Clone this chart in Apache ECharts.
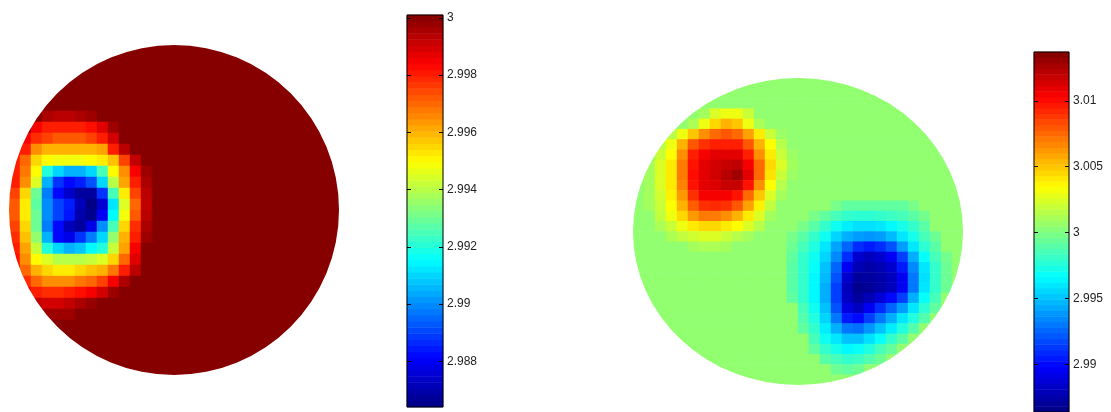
<!DOCTYPE html>
<html><head><meta charset="utf-8">
<script src="https://cdn.jsdelivr.net/npm/echarts@6/dist/echarts.min.js"></script>
<style>html,body{margin:0;padding:0;background:#fff}#c{width:1111px;height:412px}</style>
</head><body><div id="c"></div>
<script>
// ---------------- data ----------------
const gridSize = 30;                      // cells per side of each reconstruction
const leftRange = [2.9864, 3.0001];       // colour scale of left image
const rightRange = [2.9864, 3.0137];      // colour scale of right image
const leftTicks = [2.988, 2.99, 2.992, 2.994, 2.996, 2.998, 3];
const rightTicks = [2.99, 2.995, 3, 3.005, 3.01];
const leftBackground = 3.0;
const rightBackground = 3.0005;
// patches: [startCol, startRow]; null = background value
const leftPatchStart = [0, 6];
const leftPatch = [
  [null, null, null, 2.9995, 2.9993, 2.9993, 2.9995, 2.9997, null, null, null, null, null],
  [null, null, 2.9985, 2.998, 2.998, 2.998, 2.998, 2.9982, 2.9988, 2.9997, null, null, null],
  [null, 2.9985, 2.9978, 2.9975, 2.9972, 2.9972, 2.9972, 2.9975, 2.998, 2.999, null, null, null],
  [2.9985, 2.998, 2.9965, 2.996, 2.996, 2.996, 2.996, 2.996, 2.9962, 2.998, 2.9993, null, null],
  [2.998, 2.997, 2.9955, 2.995, 2.9948, 2.9948, 2.9948, 2.995, 2.9952, 2.9958, 2.9975, 2.9992, null],
  [2.998, 2.9968, 2.995, 2.992, 2.991, 2.9905, 2.9905, 2.991, 2.9925, 2.995, 2.9965, 2.9985, 2.9997],
  [2.998, 2.9965, 2.9945, 2.9905, 2.9888, 2.9882, 2.9885, 2.9892, 2.991, 2.994, 2.9962, 2.998, 2.9995],
  [2.9975, 2.9955, 2.993, 2.9898, 2.9882, 2.9874, 2.9868, 2.9868, 2.9888, 2.9925, 2.9952, 2.9975, 2.9993],
  [2.9972, 2.9952, 2.9928, 2.99, 2.989, 2.9885, 2.9872, 2.9865, 2.9875, 2.9912, 2.9945, 2.997, 2.9992],
  [2.9972, 2.9952, 2.993, 2.99, 2.989, 2.9884, 2.987, 2.9866, 2.988, 2.9915, 2.9948, 2.9972, 2.9993],
  [2.9975, 2.9955, 2.993, 2.9898, 2.9882, 2.9872, 2.9868, 2.9878, 2.99, 2.9925, 2.9955, 2.9978, 2.9995],
  [2.9978, 2.9958, 2.9935, 2.9905, 2.9882, 2.9878, 2.9888, 2.9898, 2.991, 2.9935, 2.996, 2.998, 2.9997],
  [2.998, 2.9962, 2.9942, 2.992, 2.991, 2.9905, 2.9908, 2.9915, 2.992, 2.9942, 2.9962, 2.9985, null],
  [2.9982, 2.9965, 2.995, 2.9945, 2.994, 2.994, 2.994, 2.9942, 2.9945, 2.9955, 2.997, 2.9988, null],
  [2.9985, 2.997, 2.996, 2.9955, 2.9952, 2.9952, 2.9955, 2.9958, 2.996, 2.9968, 2.998, 2.9993, null],
  [2.9988, 2.9978, 2.997, 2.9965, 2.9965, 2.9965, 2.9968, 2.997, 2.9975, 2.9985, 2.9995, null, null],
  [null, 2.9985, 2.998, 2.9978, 2.9978, 2.998, 2.9982, 2.9985, 2.999, 2.9997, null, null, null],
  [null, null, 2.9992, 2.999, 2.999, 2.9992, 2.9995, 2.9998, null, null, null, null, null],
  [null, null, null, 2.9997, 2.9997, 2.9997, null, null, null, null, null, null, null]
];
const redPatchStart = [1, 3];
const redPatch = [
  [null, null, null, null, null, 3.001, 3.0025, 3.003, 3.003, 3.002, null, null, null, null],
  [null, null, null, null, 3.0012, 3.003, 3.0045, 3.0055, 3.005, 3.003, 3.0012, null, null, null],
  [null, null, 3.0015, 3.003, 3.005, 3.0065, 3.0075, 3.008, 3.0075, 3.006, 3.004, 3.002, 3.0008, null],
  [null, 3.0015, 3.003, 3.0055, 3.008, 3.009, 3.0095, 3.0095, 3.0095, 3.008, 3.0055, 3.0035, 3.0015, null],
  [null, 3.002, 3.0035, 3.0065, 3.0095, 3.0105, 3.011, 3.011, 3.011, 3.0095, 3.0065, 3.004, 3.002, 3.0008],
  [3.001, 3.0025, 3.004, 3.007, 3.0098, 3.011, 3.0115, 3.0118, 3.012, 3.0105, 3.0075, 3.0045, 3.0025, 3.001],
  [3.001, 3.0025, 3.004, 3.007, 3.01, 3.011, 3.0115, 3.0122, 3.0128, 3.011, 3.0075, 3.0042, 3.002, 3.0008],
  [3.001, 3.0025, 3.004, 3.0068, 3.0098, 3.011, 3.0112, 3.0118, 3.0118, 3.0098, 3.0065, 3.0035, 3.0015, null],
  [3.001, 3.0022, 3.0038, 3.0062, 3.009, 3.0105, 3.0105, 3.0105, 3.0098, 3.0075, 3.005, 3.0025, 3.001, null],
  [3.001, 3.002, 3.0035, 3.0055, 3.0078, 3.009, 3.0092, 3.009, 3.008, 3.006, 3.0038, 3.0018, null, null],
  [null, 3.0018, 3.003, 3.0045, 3.0062, 3.007, 3.007, 3.0065, 3.0055, 3.004, 3.0025, 3.001, null, null],
  [null, 3.0012, 3.002, 3.003, 3.004, 3.0045, 3.0045, 3.004, 3.0035, 3.0025, 3.0015, null, null, null],
  [null, null, 3.0012, 3.0018, 3.0022, 3.0025, 3.0025, 3.002, 3.0015, 3.001, null, null, null, null],
  [null, null, null, null, 3.001, 3.0012, 3.0012, 3.001, null, null, null, null, null, null]
];
const bluePatchStart = [14, 12];
const bluePatch = [
  [null, null, null, null, 2.9998, 2.9992, 2.9992, 2.9992, 2.9992, 2.9992, 2.9992, 2.9998, null, null, null],
  [null, null, 2.9998, 2.9992, 2.9985, 2.998, 2.9978, 2.9978, 2.998, 2.9982, 2.9985, 2.999, 2.9997, null, null],
  [null, 2.9998, 2.999, 2.998, 2.997, 2.9962, 2.9958, 2.9958, 2.996, 2.9965, 2.9972, 2.998, 2.999, null, null],
  [2.9998, 2.999, 2.998, 2.997, 2.9955, 2.9945, 2.994, 2.9938, 2.994, 2.9948, 2.996, 2.9972, 2.9985, 2.9995, null],
  [2.9995, 2.9985, 2.9975, 2.996, 2.9942, 2.9925, 2.991, 2.9905, 2.991, 2.992, 2.994, 2.996, 2.9978, 2.999, null],
  [2.9992, 2.998, 2.997, 2.9955, 2.9935, 2.991, 2.9885, 2.988, 2.9885, 2.9895, 2.9915, 2.9945, 2.9968, 2.9985, 2.9997],
  [2.999, 2.998, 2.9968, 2.995, 2.9925, 2.9895, 2.9878, 2.9875, 2.9878, 2.9885, 2.9905, 2.9935, 2.996, 2.998, 2.9995],
  [2.999, 2.998, 2.9965, 2.9948, 2.992, 2.9885, 2.9872, 2.9872, 2.9875, 2.988, 2.9895, 2.993, 2.9958, 2.998, 2.9995],
  [2.999, 2.998, 2.9965, 2.9945, 2.9915, 2.988, 2.9868, 2.987, 2.9875, 2.988, 2.9895, 2.993, 2.996, 2.998, 2.9995],
  [2.9992, 2.998, 2.9965, 2.9945, 2.9915, 2.9882, 2.9872, 2.9878, 2.9888, 2.99, 2.9915, 2.9945, 2.9968, 2.9985, null],
  [null, 2.9985, 2.997, 2.995, 2.992, 2.989, 2.9882, 2.9895, 2.991, 2.9925, 2.994, 2.996, 2.9978, 2.9992, null],
  [null, 2.9988, 2.9975, 2.9955, 2.993, 2.9905, 2.99, 2.9915, 2.993, 2.9945, 2.996, 2.9975, 2.9988, null, null],
  [null, 2.9992, 2.998, 2.9962, 2.9945, 2.993, 2.9928, 2.9938, 2.995, 2.9962, 2.9975, 2.9988, null, null, null],
  [null, null, 2.9985, 2.997, 2.996, 2.995, 2.995, 2.9958, 2.9968, 2.998, 2.999, null, null, null, null],
  [null, null, 2.9992, 2.998, 2.9972, 2.9965, 2.9968, 2.9975, 2.9985, 2.9993, null, null, null, null, null],
  [null, null, null, 2.999, 2.9985, 2.998, 2.9982, 2.9988, 2.9995, null, null, null, null, null, null],
  [null, null, null, null, 2.9995, 2.9992, 2.9995, null, null, null, null, null, null, null, null]
];
const jetColors = ['#000080', '#0000ff', '#0080ff', '#00ffff', '#80ff80', '#ffff00', '#ff8000', '#ff0000', '#800000'];
const colorbarLevels = 64;

// ---------------- layout ----------------
const LAYOUT = {
  leftMap:  { left: 9,    top: 45, width: 330, height: 330 },
  leftBar:  { left: 407,  top: 15, width: 36,  height: 392 },
  rightMap: { left: 633,  top: 78, width: 330, height: 307 },
  rightBar: { left: 1034, top: 52, width: 35,  height: 360 }
};

function buildField(bg, patches) {
  const out = [];
  for (let r = 0; r < gridSize; r++) {
    for (let c = 0; c < gridSize; c++) {
      let v = bg;
      patches.forEach(p => {
        const pr = r - p.start[1], pc = c - p.start[0];
        if (pr >= 0 && pr < p.rows.length && pc >= 0 && pc < p.rows[pr].length && p.rows[pr][pc] != null) v = p.rows[pr][pc];
      });
      out.push([c, r, v]);
    }
  }
  return out;
}
function buildBar(range) {
  const out = [];
  for (let i = 0; i < colorbarLevels; i++) out.push([0, i, range[0] + (i + 0.5) * (range[1] - range[0]) / colorbarLevels]);
  return out;
}
const idx = n => Array.from({ length: n }, (_, i) => String(i));

const leftData = buildField(leftBackground, [{ start: leftPatchStart, rows: leftPatch }]);
const rightData = buildField(rightBackground, [
  { start: redPatchStart, rows: redPatch },
  { start: bluePatchStart, rows: bluePatch }
]);

function mapGrid(g) { return Object.assign({ containLabel: false }, g); }
function barGrid(g) { return Object.assign({ containLabel: false, show: true, borderColor: '#000', borderWidth: 1, backgroundColor: 'transparent', z: 10 }, g); }
const labelStyle = { color: '#222', fontSize: 12, fontFamily: 'Liberation Sans, Arial, sans-serif', margin: 4 };
function valAxis(grid, range, ticks, pos, showLabel) {
  return {
    type: 'value', gridIndex: grid, position: pos, min: range[0], max: range[1], z: 12,
    axisLine: { show: false }, splitLine: { show: false },
    axisTick: { show: true, inside: true, length: 4, lineStyle: { color: '#000' }, customValues: ticks },
    axisLabel: Object.assign({ show: showLabel, customValues: ticks }, labelStyle)
  };
}
function heat(xi, yi, data) {
  return { type: 'heatmap', xAxisIndex: xi, yAxisIndex: yi, data: data, progressive: 0,
    emphasis: { disabled: true }, itemStyle: { borderWidth: 0 } };
}
function maskPath(g, rx, ry) {
  const cx = g.left + g.width / 2, cy = g.top + g.height / 2;
  const x0 = g.left - 2, y0 = g.top - 2, x1 = g.left + g.width + 2, y1 = g.top + g.height + 2;
  return `M${x0} ${y0} L${x1} ${y0} L${x1} ${y1} L${x0} ${y1} Z ` +
    `M${cx - rx} ${cy} A${rx} ${ry} 0 1 0 ${cx + rx} ${cy} A${rx} ${ry} 0 1 0 ${cx - rx} ${cy} Z`;
}
// white frame outside each circular domain (clips the square cell grid to the disc)
function maskSeries(g, rx, ry) {
  return {
    type: 'custom', coordinateSystem: 'none', silent: true, z: 20, data: [[0]],
    renderItem: () => ({ type: 'path', shape: { pathData: maskPath(g, rx, ry) }, style: { fill: '#fff', stroke: null } })
  };
}

const option = {
  animation: false,
  backgroundColor: '#fff',
  grid: [mapGrid(LAYOUT.leftMap), barGrid(LAYOUT.leftBar), mapGrid(LAYOUT.rightMap), barGrid(LAYOUT.rightBar)],
  xAxis: [
    { type: 'category', gridIndex: 0, data: idx(gridSize), show: false },
    { type: 'category', gridIndex: 1, data: ['0'], show: false },
    { type: 'category', gridIndex: 2, data: idx(gridSize), show: false },
    { type: 'category', gridIndex: 3, data: ['0'], show: false }
  ],
  yAxis: [
    { type: 'category', gridIndex: 0, data: idx(gridSize), inverse: true, show: false },
    { type: 'category', gridIndex: 1, data: idx(colorbarLevels), show: false, position: 'left' },
    valAxis(1, leftRange, leftTicks, 'right', true),
    valAxis(1, leftRange, leftTicks, 'left', false),
    { type: 'category', gridIndex: 2, data: idx(gridSize), inverse: true, show: false },
    { type: 'category', gridIndex: 3, data: idx(colorbarLevels), show: false, position: 'left' },
    valAxis(3, rightRange, rightTicks, 'right', true),
    valAxis(3, rightRange, rightTicks, 'left', false)
  ],
  visualMap: [
    { type: 'continuous', show: false, min: leftRange[0], max: leftRange[1], seriesIndex: [0, 1], inRange: { color: jetColors } },
    { type: 'continuous', show: false, min: rightRange[0], max: rightRange[1], seriesIndex: [2, 3], inRange: { color: jetColors } }
  ],
  series: [
    heat(0, 0, leftData),
    heat(1, 1, buildBar(leftRange)),
    heat(2, 4, rightData),
    heat(3, 5, buildBar(rightRange)),
    maskSeries(LAYOUT.leftMap, 165, 165),
    maskSeries(LAYOUT.rightMap, 165, 153.5)
  ]
};
const chart = echarts.init(document.getElementById('c'), null, { renderer: 'canvas' });
chart.setOption(option);
</script>
</body></html>
